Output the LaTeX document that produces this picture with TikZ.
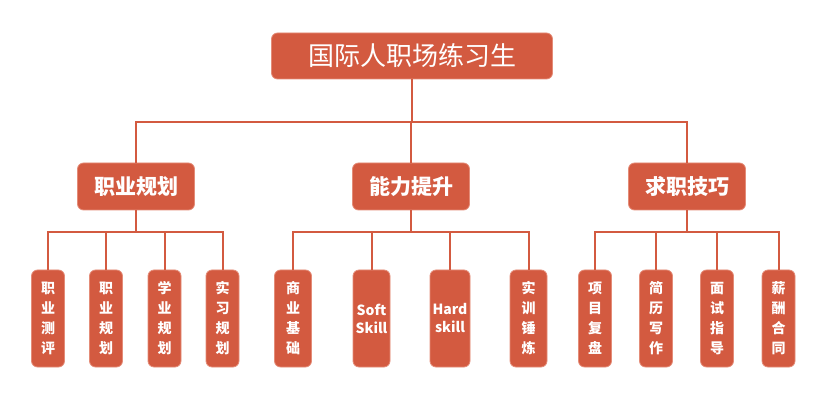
\documentclass[tikz,border=0pt]{standalone}
\usepackage{fontspec}
\setmainfont{Noto Sans CJK SC}
\definecolor{boxred}{RGB}{211,90,64}
\definecolor{boxedge}{RGB}{228,140,120}
\tikzset{
  box/.style={draw=boxedge, line width=0.8pt, fill=boxred, rounded corners=6pt,
    text=white, inner sep=0pt, align=center},
  rootbox/.style={box, minimum width=281pt, minimum height=46pt,
    font=\fontsize{26}{30}\selectfont},
  topicbox/.style={box, minimum width=117pt, minimum height=47pt,
    font=\fontsize{21}{24}\selectfont\bfseries},
  itembox/.style={box, minimum width=33pt, minimum height=97pt,
    font=\fontsize{14}{20}\selectfont\bfseries},
  wordbox/.style={itembox, minimum width=37pt, font=\fontsize{14}{18}\selectfont\bfseries},
  link/.style={draw=boxred, line width=2pt}
}
\begin{document}
\begin{tikzpicture}[x=1pt, y=-1pt]
  \useasboundingbox (0,0) rectangle (824,411);
  % Nodes
  \node[rootbox] (root) at (412,56) {国际人职场练习生};

  \node[topicbox] (plan) at (136,186.5) {职业规划};
  \node[topicbox] (skill) at (411,186.5) {能力提升};
  \node[topicbox] (job) at (687,186.5) {求职技巧};

  \node[itembox] (p1) at (48,318.5) {职\\业\\测\\评};
  \node[itembox] (p2) at (106,318.5) {职\\业\\规\\划};
  \node[itembox] (p3) at (164.5,318.5) {学\\业\\规\\划};
  \node[itembox] (p4) at (222.5,318.5) {实\\习\\规\\划};

  \node[itembox, minimum width=37pt] (s1) at (293,318.5) {商\\业\\基\\础};
  \node[wordbox] (s2) at (371.5,318.5) {Soft\\Skill};
  \node[wordbox, minimum width=40pt] (s3) at (450,318.5) {Hard\\skill};
  \node[itembox, minimum width=37pt] (s4) at (528.5,318.5) {实\\训\\锤\\炼};

  \node[itembox] (j1) at (595,318.5) {项\\目\\复\\盘};
  \node[itembox] (j2) at (656,318.5) {简\\历\\写\\作};
  \node[itembox] (j3) at (717,318.5) {面\\试\\指\\导};
  \node[itembox] (j4) at (778.5,318.5) {薪\\酬\\合\\同};

  \coordinate (bus) at (412,122);
  \coordinate (planbus) at (136,232);
  \coordinate (skillbus) at (411,232);
  \coordinate (jobbus) at (687,232);

  % Edges
  \draw[link] (root) -- (bus);
  \draw[link] (bus) -| (plan);
  \draw[link] (bus) -| (job);
  \draw[link] (bus) -| (skill);

  \draw[link] (plan) -- (planbus);
  \draw[link] (planbus) -| (p1);
  \draw[link] (planbus) -| (p2);
  \draw[link] (planbus) -| (p3);
  \draw[link] (planbus) -| (p4);

  \draw[link] (skill) -- (skillbus);
  \draw[link] (skillbus) -| (s1);
  \draw[link] (skillbus) -| (s2);
  \draw[link] (skillbus) -| (s3);
  \draw[link] (skillbus) -| (s4);

  \draw[link] (job) -- (jobbus);
  \draw[link] (jobbus) -| (j1);
  \draw[link] (jobbus) -| (j2);
  \draw[link] (jobbus) -| (j3);
  \draw[link] (jobbus) -| (j4);
\end{tikzpicture}
\end{document}
